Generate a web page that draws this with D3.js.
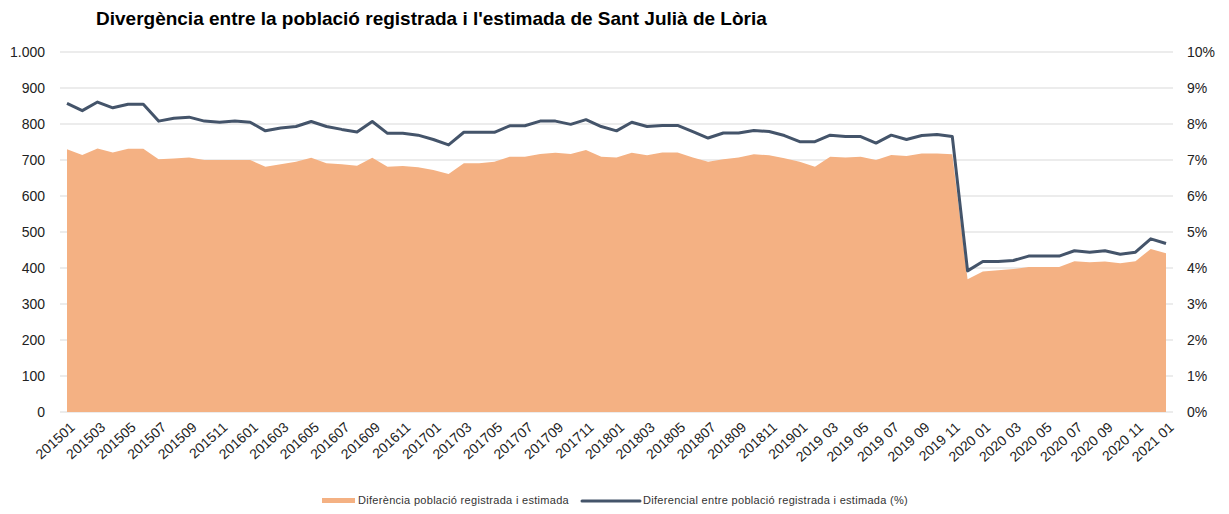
<!DOCTYPE html>
<html>
<head>
<meta charset="utf-8">
<script src="https://cdn.jsdelivr.net/npm/d3@7"></script>
<style>
  body { margin: 0; background: #fff; }
  text { font-family: "Liberation Sans", Arial, sans-serif; }
</style>
</head>
<body>
<div class="canvas"></div>
<script>
const months = [
  "201501","201502","201503","201504","201505","201506","201507","201508","201509","201510","201511","201512",
  "201601","201602","201603","201604","201605","201606","201607","201608","201609","201610","201611","201612",
  "201701","201702","201703","201704","201705","201706","201707","201708","201709","201710","201711","201712",
  "201801","201802","201803","201804","201805","201806","201807","201808","201809","201810","201811","201812",
  "201901","2019 02","2019 03","2019 04","2019 05","2019 06","2019 07","2019 08","2019 09","2019 10","2019 11","2019 12",
  "2020 01","2020 02","2020 03","2020 04","2020 05","2020 06","2020 07","2020 08","2020 09","2020 10","2020 11","2020 12",
  "2021 01"
];
// diferència (persones)
const diff = [
  730, 714, 732, 721, 731, 731, 702, 704, 707, 700, 700, 700,
  700, 681, 688, 695, 706, 691, 688, 684, 706, 681, 683, 680,
  672, 661, 691, 691, 695, 709, 709, 717, 720, 717, 728, 709,
  707, 720, 713, 721, 721, 707, 695, 702, 707, 716, 713, 705,
  695, 681, 709, 707, 709, 700, 714, 711, 718, 718, 716, 369,
  390, 394, 397, 403, 403, 403, 419, 416, 418, 413, 419, 453,
  441
];
// diferencial (%)
const pct = [
  8.57, 8.37, 8.61, 8.45, 8.55, 8.55, 8.08, 8.16, 8.19, 8.08, 8.05, 8.08,
  8.05, 7.81, 7.89, 7.93, 8.07, 7.93, 7.85, 7.78, 8.07, 7.74, 7.74, 7.69,
  7.57, 7.42, 7.77, 7.77, 7.77, 7.95, 7.95, 8.08, 8.08, 7.99, 8.12, 7.93,
  7.81, 8.05, 7.93, 7.96, 7.96, 7.79, 7.61, 7.75, 7.75, 7.82, 7.79, 7.68,
  7.51, 7.51, 7.69, 7.65, 7.65, 7.47, 7.69, 7.57, 7.68, 7.71, 7.65, 3.92,
  4.18, 4.18, 4.21, 4.33, 4.33, 4.33, 4.48, 4.44, 4.48, 4.38, 4.44, 4.81,
  4.68
];
const leftTicks = [0, 100, 200, 300, 400, 500, 600, 700, 800, 900, 1000];
const rightTicks = [0, 1, 2, 3, 4, 5, 6, 7, 8, 9, 10];

const W = 1229, H = 514;
const plot = { left: 60, right: 1173, top: 52, bottom: 412 };

const svg = d3.select(".canvas").append("svg")
  .attr("width", W).attr("height", H);

svg.append("text")
  .attr("x", 96).attr("y", 25)
  .attr("font-size", 19).attr("font-weight", "bold").attr("fill", "#000")
  .text("Divergència entre la població registrada i l'estimada de Sant Julià de Lòria");

const x = d3.scalePoint().domain(months).range([67, 1166]);
const yL = d3.scaleLinear().domain([0, 1000]).range([plot.bottom, plot.top]);
const yR = d3.scaleLinear().domain([0, 10]).range([plot.bottom, plot.top]);

// gridlines
svg.append("g").selectAll("line").data(leftTicks).join("line")
  .attr("x1", plot.left).attr("x2", plot.right)
  .attr("y1", d => yL(d)).attr("y2", d => yL(d))
  .attr("stroke", "#d9d9d9").attr("stroke-width", 1);

// area
const area = d3.area()
  .x((d, i) => x(months[i]))
  .y0(yL(0))
  .y1(d => yL(d));
svg.append("path").datum(diff)
  .attr("d", area).attr("fill", "#f4b183");

// line
const line = d3.line()
  .x((d, i) => x(months[i]))
  .y(d => yR(d));
svg.append("path").datum(pct)
  .attr("d", line).attr("fill", "none")
  .attr("stroke", "#44546a").attr("stroke-width", 3)
  .attr("stroke-linejoin", "round");

// left axis
const leftAxis = d3.axisLeft(yL).tickValues(leftTicks).tickSize(0).tickPadding(0)
  .tickFormat(d => d3.format(",")(d).replace(",", "."));
svg.append("g").attr("transform", "translate(45,0)").call(leftAxis)
  .call(g => g.select(".domain").remove())
  .selectAll("text").attr("font-size", 14).attr("fill", "#222").attr("font-family", "Liberation Sans, Arial, sans-serif");

// right axis
const rightAxis = d3.axisRight(yR).tickValues(rightTicks).tickSize(0).tickPadding(0)
  .tickFormat(d => d + "%");
svg.append("g").attr("transform", "translate(1187,0)").call(rightAxis)
  .call(g => g.select(".domain").remove())
  .selectAll("text").attr("font-size", 14).attr("fill", "#222").attr("font-family", "Liberation Sans, Arial, sans-serif");

// bottom labels every other month
const xAxis = d3.axisBottom(x).tickValues(months.filter((d, i) => i % 2 === 0)).tickSize(0).tickPadding(0);
svg.append("g").attr("transform", `translate(0,${plot.bottom})`).call(xAxis)
  .call(g => g.select(".domain").remove())
  .selectAll("text")
  .attr("font-size", 14).attr("fill", "#222").attr("font-family", "Liberation Sans, Arial, sans-serif")
  .attr("text-anchor", "end")
  .attr("dy", "0.35em")
  .attr("transform", "translate(5,13) rotate(-42)");

// legend
const legend = svg.append("g").attr("font-size", 11).attr("fill", "#333").attr("letter-spacing", 0.3);
legend.append("rect").attr("x", 322).attr("y", 498).attr("width", 33).attr("height", 5).attr("fill", "#f4b183");
legend.append("text").attr("x", 358).attr("y", 504).text("Diferència població registrada i estimada");
legend.append("line").attr("x1", 582).attr("x2", 640).attr("y1", 501).attr("y2", 501)
  .attr("stroke", "#44546a").attr("stroke-width", 3).attr("stroke-linecap", "round");
legend.append("text").attr("x", 643).attr("y", 504).text("Diferencial entre població registrada i estimada (%)");
</script>
</body>
</html>
